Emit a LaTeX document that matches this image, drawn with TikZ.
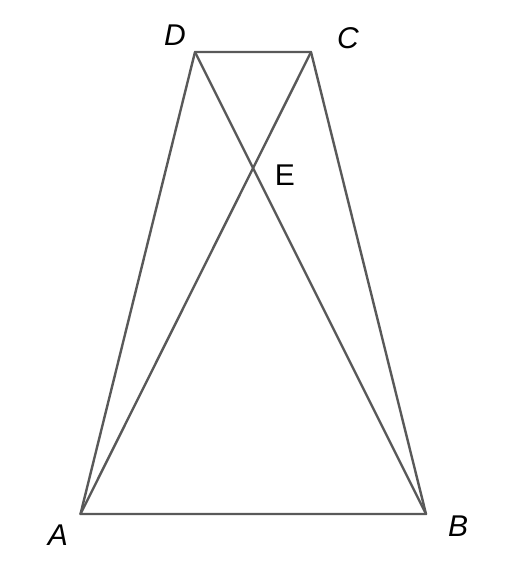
\documentclass[tikz,border=0pt]{standalone}
\usepackage{fontspec}
\setmainfont{Liberation Sans}
\begin{document}
\begin{tikzpicture}[x=1pt,y=-1pt,
  edge/.style={draw=black!65, line width=2.4pt, line join=round, line cap=round},
  lbl/.style={font=\fontsize{30}{32}\selectfont\itshape, inner sep=0pt},
  lblup/.style={font=\fontsize{30}{32}\selectfont, inner sep=0pt}]
\useasboundingbox (0,0) rectangle (504,570);
\coordinate (A) at (80.5,514);
\coordinate (B) at (426,514);
\coordinate (C) at (311,52);
\coordinate (D) at (195,52);
\draw[edge] (A) -- (B) -- (C) -- (D) -- cycle;
\draw[edge] (A) -- (C);
\draw[edge] (B) -- (D);
\node[lbl] (la) at (58,535) {A};
\node[lbl] (lb) at (458,526) {B};
\node[lbl] (lc) at (348,38) {C};
\node[lbl] (ld) at (175,35) {D};
\node[lblup] (le) at (285,175) {E};
\end{tikzpicture}
\end{document}
